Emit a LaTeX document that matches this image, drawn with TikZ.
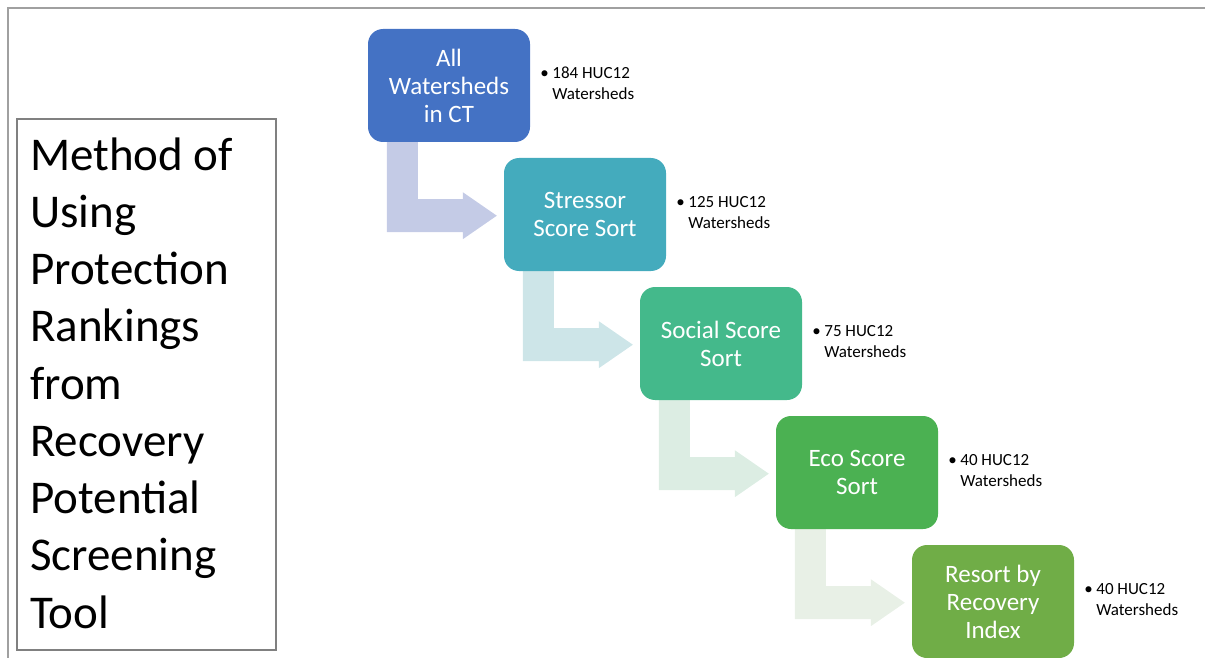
\documentclass[tikz,border=0pt]{standalone}
\usepackage{fontspec}
\setmainfont{Carlito}
\usetikzlibrary{calc}
\definecolor{cb1}{HTML}{4472C4}
\definecolor{cb2}{HTML}{44ABBD}
\definecolor{cb3}{HTML}{44B98B}
\definecolor{cb4}{HTML}{4BB152}
\definecolor{cb5}{HTML}{70AD47}
\definecolor{ca1}{HTML}{C4CBE6}
\definecolor{ca2}{HTML}{CDE5E8}
\definecolor{ca3}{HTML}{DCEDE3}
\definecolor{ca4}{HTML}{E8F0E6}
\definecolor{frame}{HTML}{A0A0A0}
\tikzset{
  stepbox/.style={rounded corners=15pt, minimum width=162pt, minimum height=113pt,
    inner sep=0pt, align=center, text=white, font=\fontsize{25}{28}\selectfont},
  countlabel/.style={anchor=base west, inner sep=0pt, align=left,
    font=\fontsize{17}{21}\selectfont},
  bulletdot/.style={anchor=base west, inner sep=0pt, font=\fontsize{17}{21}\selectfont},
  titletext/.style={anchor=base west, inner sep=0pt, align=left,
    font=\fontsize{47}{57.25}\selectfont},
}
\begin{document}
\begin{tikzpicture}[x=1pt,y=-1pt]
\useasboundingbox (0,0) rectangle (1205,658);
% outer frame (partly cropped)
\draw[frame, line width=2pt] (8,660) -- (8,8) -- (1207,8);
% title box
\draw[black!50, line width=1.2pt] (17,119) rectangle (276,650);
\node[titletext] (title) at (30,628) {Method of\\Using\\Protection\\Rankings\\from\\Recovery\\Potential\\Screening\\Tool};
% box positions
\path
  (449,85.5) coordinate (p0)
  (585,214.5) coordinate (p1)
  (721,343.5) coordinate (p2)
  (857,472.5) coordinate (p3)
  (993,601.5) coordinate (p4);
% invisible named nodes to anchor arrows
\foreach \i in {0,...,4}{
  \node[stepbox, draw=none, fill=none] (b\i) at (p\i) {};
}
% bent arrows
\foreach \i/\c in {0/ca1,1/ca2,2/ca3,3/ca4}{
  \fill[\c] ([shift={(19,-1)}]b\i.south west) -- ([shift={(50,-1)}]b\i.south west)
    -- ([shift={(50,57)}]b\i.south west) -- ([shift={(95,57)}]b\i.south west)
    -- ([shift={(95,50)}]b\i.south west) -- ([shift={(129,73.5)}]b\i.south west)
    -- ([shift={(95,97)}]b\i.south west) -- ([shift={(95,90)}]b\i.south west)
    -- ([shift={(19,90)}]b\i.south west) -- cycle;
}
% visible boxes
\node[stepbox, fill=cb1] (s0) at (p0) {All\\Watersheds\\in CT};
\node[stepbox, fill=cb2] (s1) at (p1) {Stressor\\Score Sort};
\node[stepbox, fill=cb3] (s2) at (p2) {Social Score\\Sort};
\node[stepbox, fill=cb4] (s3) at (p3) {Eco Score\\Sort};
\node[stepbox, fill=cb5] (s4) at (p4) {Resort by\\Recovery\\Index};
% count labels
\foreach \i/\n in {0/184,1/125,2/75,3/40,4/40}{
  \node[bulletdot] (d\i) at ([shift={(10,50)}]s\i.north east) {•};
  \node[countlabel] (l\i) at ([shift={(22,71)}]s\i.north east) {\n\ HUC12\\Watersheds};
}
\end{tikzpicture}
\end{document}
